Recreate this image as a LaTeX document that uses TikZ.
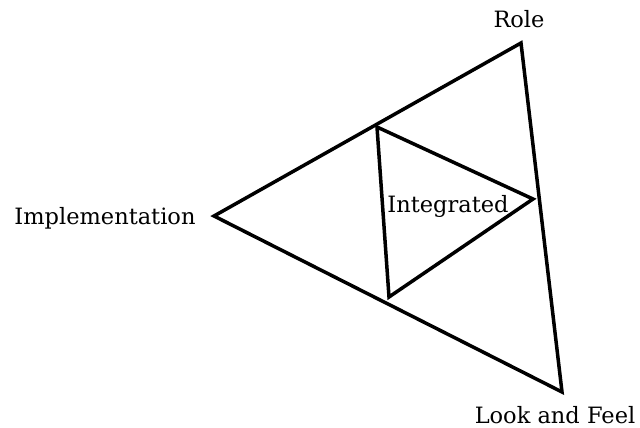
\documentclass[tikz,border=0pt]{standalone}
\usepackage{fontspec}
\setmainfont{DejaVu Serif}
\begin{document}
\begin{tikzpicture}[x=1pt,y=-1pt,
  edge/.style={line width=3.5pt,line join=miter,black},
  lbl/.style={font=\fontsize{22.5}{26}\selectfont,inner sep=0pt,anchor=base}]
\useasboundingbox (0,0) rectangle (640,428);
\coordinate (R) at (521,43);
\coordinate (I) at (214,216);
\coordinate (L) at (562,392);
\coordinate (a) at (377,127);
\coordinate (b) at (533,199);
\coordinate (c) at (389,297);
\draw[edge] (R) -- (I) -- (L) -- cycle;
\draw[edge] (a) -- (b) -- (c) -- cycle;
\node[lbl] (role) at (519,28) {Role};
\node[lbl] (impl) at (105,224) {Implementation};
\node[lbl] (lf) at (555,423) {Look and Feel};
\node[lbl] (int) at (448,212) {Integrated};
\end{tikzpicture}
\end{document}
